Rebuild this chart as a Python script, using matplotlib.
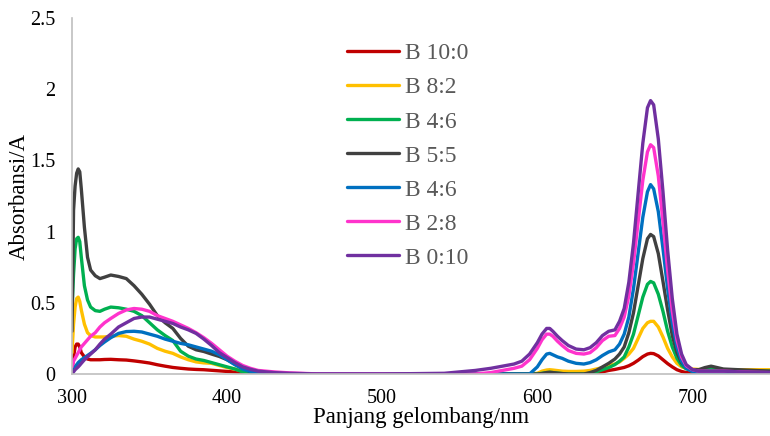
import matplotlib.pyplot as plt

plt.rcParams["font.family"] = ["Liberation Serif", "DejaVu Serif"]

# wavelength grid (nm), shared by every series
wavelength = [
    300, 301, 302, 303, 304, 305, 306,
    308, 310, 312, 315, 318, 321, 325, 330, 335, 340,
    345, 350, 355, 360, 365, 370, 375, 380, 385, 390, 395, 400,
    405, 410, 415, 420, 430, 440, 460, 500, 540, 560,
    570, 580, 585, 590, 595, 600, 603, 606, 608, 610, 613, 616,
    620, 625, 630, 634, 638, 642, 646,
    650, 653, 656, 659, 662, 665, 668, 671, 673,
    675, 678, 681, 684, 687, 690, 693, 696, 700, 704,
    708, 712, 716, 720, 730, 740, 750,
]

b_10_0 = [
    0.02, 0.12, 0.19, 0.21, 0.21, 0.19, 0.15,
    0.12, 0.105, 0.10, 0.10, 0.10, 0.102, 0.103, 0.10, 0.098, 0.092,
    0.085, 0.077, 0.065, 0.055, 0.046, 0.04, 0.035, 0.032, 0.03, 0.026,
    0.022, 0.018,
    0.014, 0.01, 0.005, 0.0, 0.0, 0.0, 0.0, 0.0, 0.0, 0.0,
    0.0, 0.0, 0.0, 0.0, 0.0, 0.0, 0.0, 0.0, 0.0, 0.0, 0.0, 0.0,
    0.0, 0.0, 0.0, 0.003, 0.008, 0.015, 0.025,
    0.032, 0.039, 0.046, 0.058, 0.075, 0.097, 0.122, 0.14, 0.145,
    0.143, 0.127, 0.10, 0.073, 0.05, 0.03, 0.018, 0.01, 0.006, 0.005,
    0.005, 0.005, 0.005, 0.005, 0.005, 0.005, 0.005,
]

b_8_2 = [
    0.15, 0.35, 0.47, 0.53, 0.54, 0.51, 0.45,
    0.35, 0.29, 0.27, 0.26, 0.26, 0.26, 0.265, 0.27, 0.265, 0.245,
    0.23, 0.21, 0.18, 0.16, 0.145, 0.12, 0.10, 0.085, 0.078, 0.075,
    0.06, 0.045,
    0.035, 0.02, 0.01, 0.005, 0.0, 0.0, 0.0, 0.0, 0.0, 0.0,
    0.0, 0.0, 0.0, 0.0, 0.0, 0.005, 0.02, 0.028, 0.03, 0.028, 0.024, 0.02,
    0.018, 0.018, 0.02, 0.025, 0.035, 0.045, 0.06,
    0.07, 0.085, 0.11, 0.14, 0.18, 0.25, 0.32, 0.36, 0.37,
    0.37, 0.33, 0.26, 0.18, 0.12, 0.075, 0.05, 0.04, 0.035, 0.032,
    0.03, 0.03, 0.03, 0.03, 0.03, 0.03, 0.03,
]

b_4_6_a = [
    0.45, 0.7, 0.88, 0.95, 0.96, 0.93, 0.82,
    0.62, 0.52, 0.47, 0.445, 0.44, 0.455, 0.47, 0.465, 0.455, 0.44,
    0.41, 0.36, 0.31, 0.27, 0.235, 0.16, 0.125, 0.105, 0.095, 0.08,
    0.065, 0.05,
    0.035, 0.015, 0.005, 0.0, 0.0, 0.0, 0.0, 0.0, 0.0, 0.0,
    0.0, 0.0, 0.0, 0.0, 0.0, 0.0, 0.005, 0.01, 0.012, 0.01, 0.006, 0.003,
    0.0, 0.0, 0.0, 0.005, 0.015, 0.03, 0.045,
    0.066, 0.09, 0.12, 0.19, 0.28, 0.41, 0.54, 0.63, 0.65,
    0.64, 0.56, 0.44, 0.30, 0.19, 0.11, 0.06, 0.036, 0.025, 0.025,
    0.03, 0.035, 0.03, 0.025, 0.02, 0.02, 0.02,
]

b_5_5 = [
    0.3, 1.15, 1.32, 1.41, 1.44, 1.42, 1.30,
    1.03, 0.82, 0.73, 0.69, 0.67, 0.68, 0.695, 0.685, 0.67, 0.62,
    0.56, 0.49, 0.41, 0.36, 0.32, 0.25, 0.195, 0.17, 0.158, 0.14,
    0.123, 0.10,
    0.07, 0.045, 0.015, 0.0, 0.0, 0.0, 0.0, 0.0, 0.0, 0.0,
    0.0, 0.0, 0.0, 0.0, 0.0, 0.0, 0.003, 0.01, 0.012, 0.01, 0.006, 0.003,
    0.0, 0.0, 0.0, 0.01, 0.025, 0.05, 0.075,
    0.105, 0.14, 0.19, 0.29, 0.43, 0.62, 0.81, 0.95, 0.98,
    0.965, 0.845, 0.65, 0.45, 0.27, 0.15, 0.08, 0.045, 0.03, 0.03,
    0.045, 0.055, 0.045, 0.035, 0.03, 0.025, 0.02,
]

b_4_6_b = [
    0.0, 0.03, 0.05, 0.065, 0.08, 0.09, 0.10,
    0.115, 0.13, 0.145, 0.17, 0.20, 0.225, 0.255, 0.285, 0.298, 0.30,
    0.295, 0.28, 0.265, 0.245, 0.23, 0.215, 0.205, 0.19, 0.175, 0.16,
    0.135, 0.10,
    0.065, 0.035, 0.018, 0.008, 0.0, 0.0, 0.0, 0.0, 0.0, 0.0,
    0.0, 0.0, 0.0, 0.0, 0.0, 0.05, 0.10, 0.14, 0.145, 0.135, 0.12, 0.11,
    0.09, 0.075, 0.07, 0.08, 0.10, 0.13, 0.155,
    0.17, 0.21, 0.28, 0.40, 0.60, 0.85, 1.10, 1.28, 1.33,
    1.30, 1.14, 0.88, 0.60, 0.36, 0.19, 0.09, 0.04, 0.016, 0.01,
    0.01, 0.01, 0.01, 0.01, 0.01, 0.01, 0.01,
]

b_2_8 = [
    0.05, 0.09, 0.11, 0.13, 0.15, 0.17, 0.19,
    0.215, 0.24, 0.265, 0.29, 0.33, 0.36, 0.39, 0.425, 0.45, 0.46,
    0.455, 0.44, 0.41, 0.39, 0.37, 0.345, 0.32, 0.29, 0.255, 0.215,
    0.17, 0.125,
    0.09, 0.06, 0.04, 0.025, 0.015, 0.008, 0.0, 0.0, 0.0, 0.0,
    0.01, 0.03, 0.04, 0.055, 0.10, 0.18, 0.24, 0.28, 0.28, 0.265, 0.23, 0.20,
    0.165, 0.145, 0.14, 0.15, 0.185, 0.235, 0.265,
    0.27, 0.32, 0.40, 0.55, 0.78, 1.07, 1.36, 1.56, 1.61,
    1.59, 1.39, 1.07, 0.73, 0.44, 0.24, 0.12, 0.058, 0.03, 0.02,
    0.02, 0.02, 0.02, 0.02, 0.015, 0.012, 0.01,
]

b_0_10 = [
    0.0, 0.015, 0.03, 0.04, 0.05, 0.062, 0.075,
    0.10, 0.12, 0.14, 0.17, 0.21, 0.245, 0.28, 0.33, 0.36, 0.39,
    0.40, 0.40, 0.385, 0.37, 0.355, 0.33, 0.31, 0.285, 0.245, 0.20,
    0.15, 0.115,
    0.08, 0.05, 0.033, 0.02, 0.01, 0.005, 0.0, 0.0, 0.005, 0.025,
    0.04, 0.06, 0.07, 0.09, 0.14, 0.22, 0.28, 0.32, 0.32, 0.30, 0.265, 0.235,
    0.20, 0.175, 0.17, 0.185, 0.22, 0.27, 0.30,
    0.31, 0.37, 0.46, 0.645, 0.92, 1.27, 1.62, 1.87, 1.92,
    1.89, 1.65, 1.28, 0.87, 0.53, 0.28, 0.14, 0.066, 0.031, 0.02,
    0.02, 0.02, 0.02, 0.02, 0.015, 0.012, 0.01,
]

labels = ["B 10:0", "B 8:2", "B 4:6", "B 5:5", "B 4:6", "B 2:8", "B 0:10"]
colors = ["#C00000", "#FFC000", "#00B050", "#404040",
          "#0070C0", "#FF33CC", "#7030A0"]
x_ticks = [300, 400, 500, 600, 700]
y_ticks = [0, 0.5, 1, 1.5, 2, 2.5]
y_tick_labels = ["0", "0.5", "1", "1.5", "2", "2.5"]


def plot_spectra() -> None:
    """Draws the absorbance spectra and saves them as out.png."""
    series = [b_10_0, b_8_2, b_4_6_a, b_5_5, b_4_6_b, b_2_8, b_0_10]
    fig = plt.figure(figsize=(7.7, 4.36), dpi=100)
    ax = fig.add_axes([72 / 770, 62 / 436, 698 / 770, 356 / 436])

    for values, color, label in zip(series, colors, labels):
        ax.plot(wavelength, values, color=color, lw=2.4, label=label,
                solid_joinstyle="round", solid_capstyle="round")

    ax.set_xlim(300, 750)
    ax.set_ylim(0, 2.5)
    ax.set_xticks(x_ticks)
    ax.set_yticks(y_ticks)
    ax.set_yticklabels(y_tick_labels)
    ax.tick_params(length=0, labelsize=14.5)
    ax.tick_params(axis="x", pad=11)
    ax.tick_params(axis="y", pad=12)

    for side in ("top", "right"):
        ax.spines[side].set_visible(False)
    for side in ("left", "bottom"):
        ax.spines[side].set_color("#BFBFBF")
        ax.spines[side].set_linewidth(1.2)

    ax.set_xlabel("Panjang gelombang/nm", fontsize=16.5, labelpad=-1)
    ax.set_ylabel("Absorbansi/A", fontsize=16.5, labelpad=0)

    ax.legend(loc="upper left", bbox_to_anchor=(0.3935, 0.93),
              frameon=False, fontsize=17, handlelength=2.2,
              handletextpad=0.25, labelspacing=0.53, borderpad=0,
              borderaxespad=0, labelcolor="#595959")

    fig.savefig("out.png", dpi=100)


def main():
    plot_spectra()


if __name__ == "__main__":
    main()
